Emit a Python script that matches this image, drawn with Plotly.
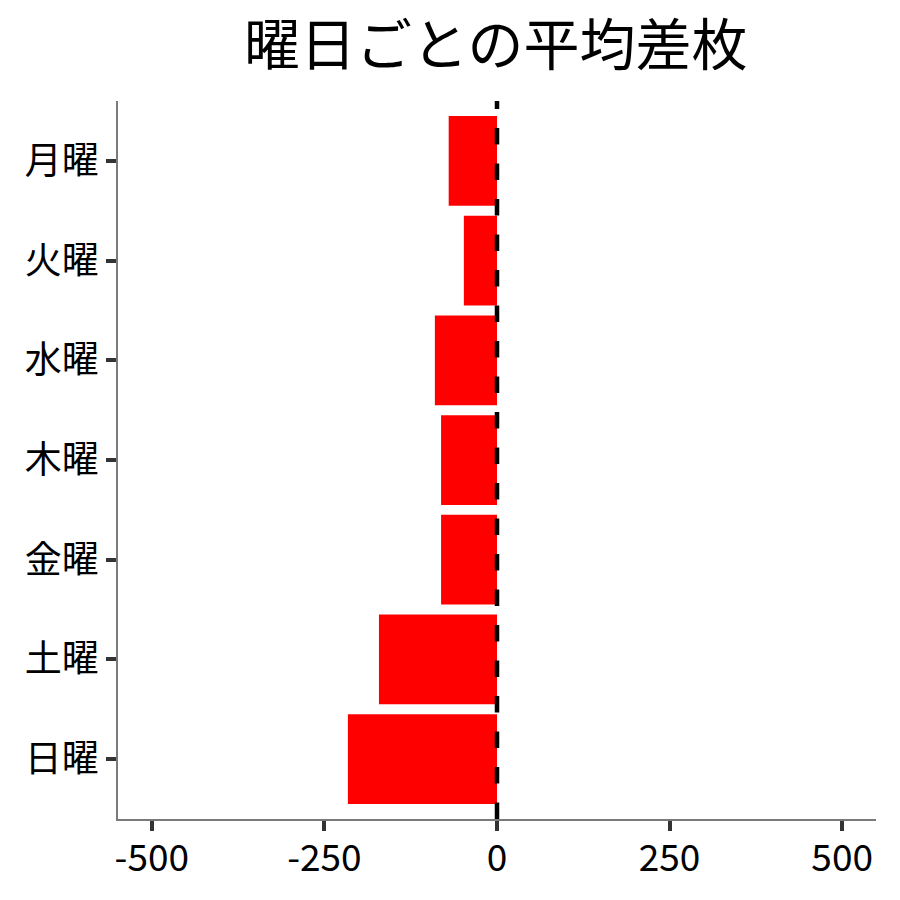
import plotly.graph_objects as go

days = ["月曜", "火曜", "水曜", "木曜", "金曜", "土曜", "日曜"]
avg_diff = [-70, -48, -90, -81, -81, -171, -216]
x_ticks = [-500, -250, 0, 250, 500]
x_tick_labels = ["-500", "-250", "0", "250", "500"]

FONT = "Noto Sans CJK JP"

fig = go.Figure()
fig.add_trace(go.Bar(
    x=avg_diff, y=days, orientation="h",
    marker=dict(color="#ff0000", line=dict(width=0)),
    width=0.9,
))
fig.add_vline(x=0, line=dict(color="black", width=4.5, dash="16.5px,19px"))

fig.update_layout(
    width=900, height=900,
    margin=dict(l=110, r=32, t=93, b=89),
    paper_bgcolor="white", plot_bgcolor="white",
    showlegend=False,
    font=dict(family=FONT, color="black"),
    title=dict(text="曜日ごとの平均差枚", font=dict(family=FONT, size=56, color="black"),
               x=0.542, xanchor="center", y=0.958, yanchor="middle"),
    bargap=0.1,
)
fig.update_xaxes(
    range=[-549, 549], tickvals=x_ticks, ticktext=x_tick_labels,
    showgrid=False, zeroline=False,
    showline=True, linecolor="#7a7a7a", linewidth=1.5,
    ticks="outside", ticklen=10, tickwidth=3.5, tickcolor="#333333",
    tickfont=dict(family=FONT, size=37, color="black"),
    ticklabelstandoff=-4,
)
fig.update_yaxes(
    categoryorder="array", categoryarray=days,
    range=[6.6, -0.6],
    showgrid=False, zeroline=False,
    showline=True, linecolor="#7a7a7a", linewidth=1.5,
    ticks="outside", ticklen=10, tickwidth=3.5, tickcolor="#333333",
    tickfont=dict(family=FONT, size=37, color="black"),
)

fig.write_html("out.html")
